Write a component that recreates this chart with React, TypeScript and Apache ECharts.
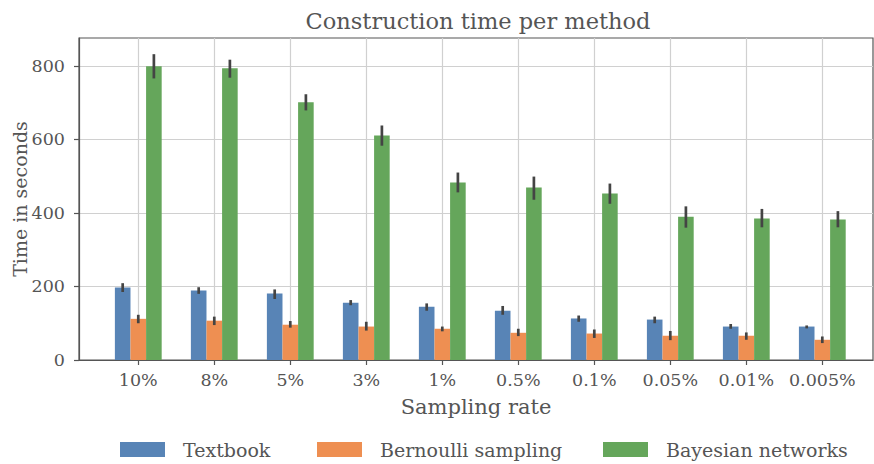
import React, { useEffect, useRef } from 'react';
import * as echarts from 'echarts';

const categories = ['10%', '8%', '5%', '3%', '1%', '0.5%', '0.1%', '0.05%', '0.01%', '0.005%'];
const seriesNames = ['Textbook', 'Bernoulli sampling', 'Bayesian networks'];
const yTicks = [0, 200, 400, 600, 800];

const textbook = [197, 189, 181, 156, 145, 134, 113, 110, 91, 91];
const textbookLow = [185, 180, 166, 149, 134, 123, 104, 100, 85, 86];
const textbookHigh = [209, 198, 192, 163, 154, 147, 121, 118, 98, 94];

const bernoulli = [112, 107, 96, 91, 85, 74, 72, 66, 66, 55];
const bernoulliLow = [100, 95, 88, 80, 78, 65, 60, 54, 55, 46];
const bernoulliHigh = [123, 118, 106, 104, 91, 85, 83, 79, 75, 64];

const bayes = [799, 794, 701, 611, 483, 469, 453, 390, 385, 382];
const bayesLow = [766, 768, 679, 583, 456, 436, 425, 360, 361, 361];
const bayesHigh = [832, 817, 723, 638, 510, 499, 480, 418, 411, 405];

const colors = ['#5884b6', '#ee8f52', '#65a65b'];
const FONT = 'DejaVu Serif';
const TEXT = '#555555';
const BAR_W = 15.6;

export default function App() {
  const ref = useRef<HTMLDivElement>(null);
  useEffect(() => {
    document.body.style.margin = '0';
    const chart = echarts.init(ref.current!, null, { renderer: 'svg' });
    const values = [textbook, bernoulli, bayes];
    const lows = [textbookLow, bernoulliLow, bayesLow];
    const highs = [textbookHigh, bernoulliHigh, bayesHigh];
    const idx = categories.map((_, i) => i);

    const barSeries = values.map((vals, k) => ({
      type: 'bar',
      name: seriesNames[k],
      data: vals.map((v, i) => [i, v]),
      barWidth: BAR_W,
      barGap: '0%',
      itemStyle: { color: colors[k] },
      emphasis: { disabled: true },
      silent: true,
    }));

    const errSeries = values.map((vals, k) => ({
      type: 'custom',
      name: 'err' + k,
      silent: true,
      z: 5,
      encode: { x: 0, y: [1, 2] },
      data: vals.map((_, i) => [i, lows[k][i], highs[k][i]]),
      renderItem: (params: any, api: any) => {
        const p1 = api.coord([api.value(0), api.value(1)]);
        const p2 = api.coord([api.value(0), api.value(2)]);
        const off = (k - 1) * BAR_W;
        return {
          type: 'line',
          shape: { x1: p1[0] + off, y1: p1[1], x2: p2[0] + off, y2: p2[1] },
          style: { stroke: '#444444', lineWidth: 2.7 },
        };
      },
    }));

    const legendPos = [120, 317, 603];
    const legends = seriesNames.map((n, k) => ({
      data: [n],
      left: legendPos[k],
      top: 440,
      padding: 0,
      icon: 'rect',
      itemWidth: 45,
      itemHeight: 15,
      selectedMode: false,
      textStyle: { fontFamily: FONT, fontSize: 19, color: TEXT, padding: [0, 0, 0, 13] },
    }));

    chart.setOption({
      animation: false,
      grid: {
        left: 79,
        right: 1,
        top: 38,
        bottom: 104,
        show: true,
        borderColor: '#555555',
        borderWidth: 1.2,
        containLabel: false,
        outerBoundsMode: 'none',
      },
      graphic: [
        {
          type: 'text',
          x: 478,
          y: 21,
          style: {
            text: 'Construction time per method',
            fontFamily: FONT,
            fontSize: 22.5,
            fill: TEXT,
            align: 'center',
            verticalAlign: 'middle',
          },
        },
      ],
      legend: legends,
      xAxis: {
        type: 'value',
        min: -0.78,
        max: 9.667,
        name: 'Sampling rate',
        nameLocation: 'middle',
        nameGap: 36,
        nameMoveOverlap: false,
        nameTextStyle: { fontFamily: FONT, fontSize: 21, color: TEXT },
        axisLine: { show: true, onZero: false, lineStyle: { color: '#555555', width: 1.2 } },
        axisTick: { show: true, length: 5, customValues: idx, lineStyle: { color: '#555555', width: 1.2 } },
        axisLabel: {
          customValues: idx,
          formatter: (v: number) => categories[Math.round(v)] ?? '',
          margin: 11,
          fontFamily: FONT,
          fontSize: 17.5,
          color: TEXT,
        },
        splitLine: { show: true, lineStyle: { color: '#d0d0d0', width: 1.2 } },
      },
      yAxis: {
        type: 'value',
        min: 0,
        max: 876,
        name: 'Time in seconds',
        nameLocation: 'middle',
        nameGap: 50,
        nameMoveOverlap: false,
        nameTextStyle: { fontFamily: FONT, fontSize: 19, color: TEXT },
        axisLine: { show: true, onZero: false, lineStyle: { color: '#555555', width: 1.2 } },
        axisTick: { show: true, length: 5, customValues: yTicks, lineStyle: { color: '#555555', width: 1.2 } },
        axisLabel: {
          customValues: yTicks,
          margin: 14,
          fontFamily: FONT,
          fontSize: 17.5,
          color: TEXT,
        },
        splitLine: { show: true, lineStyle: { color: '#d0d0d0', width: 1.2 } },
      },
      series: [...barSeries, ...errSeries],
    });
    return () => chart.dispose();
  }, []);
  return <div ref={ref} style={{ width: 874, height: 464 }} />;
}
